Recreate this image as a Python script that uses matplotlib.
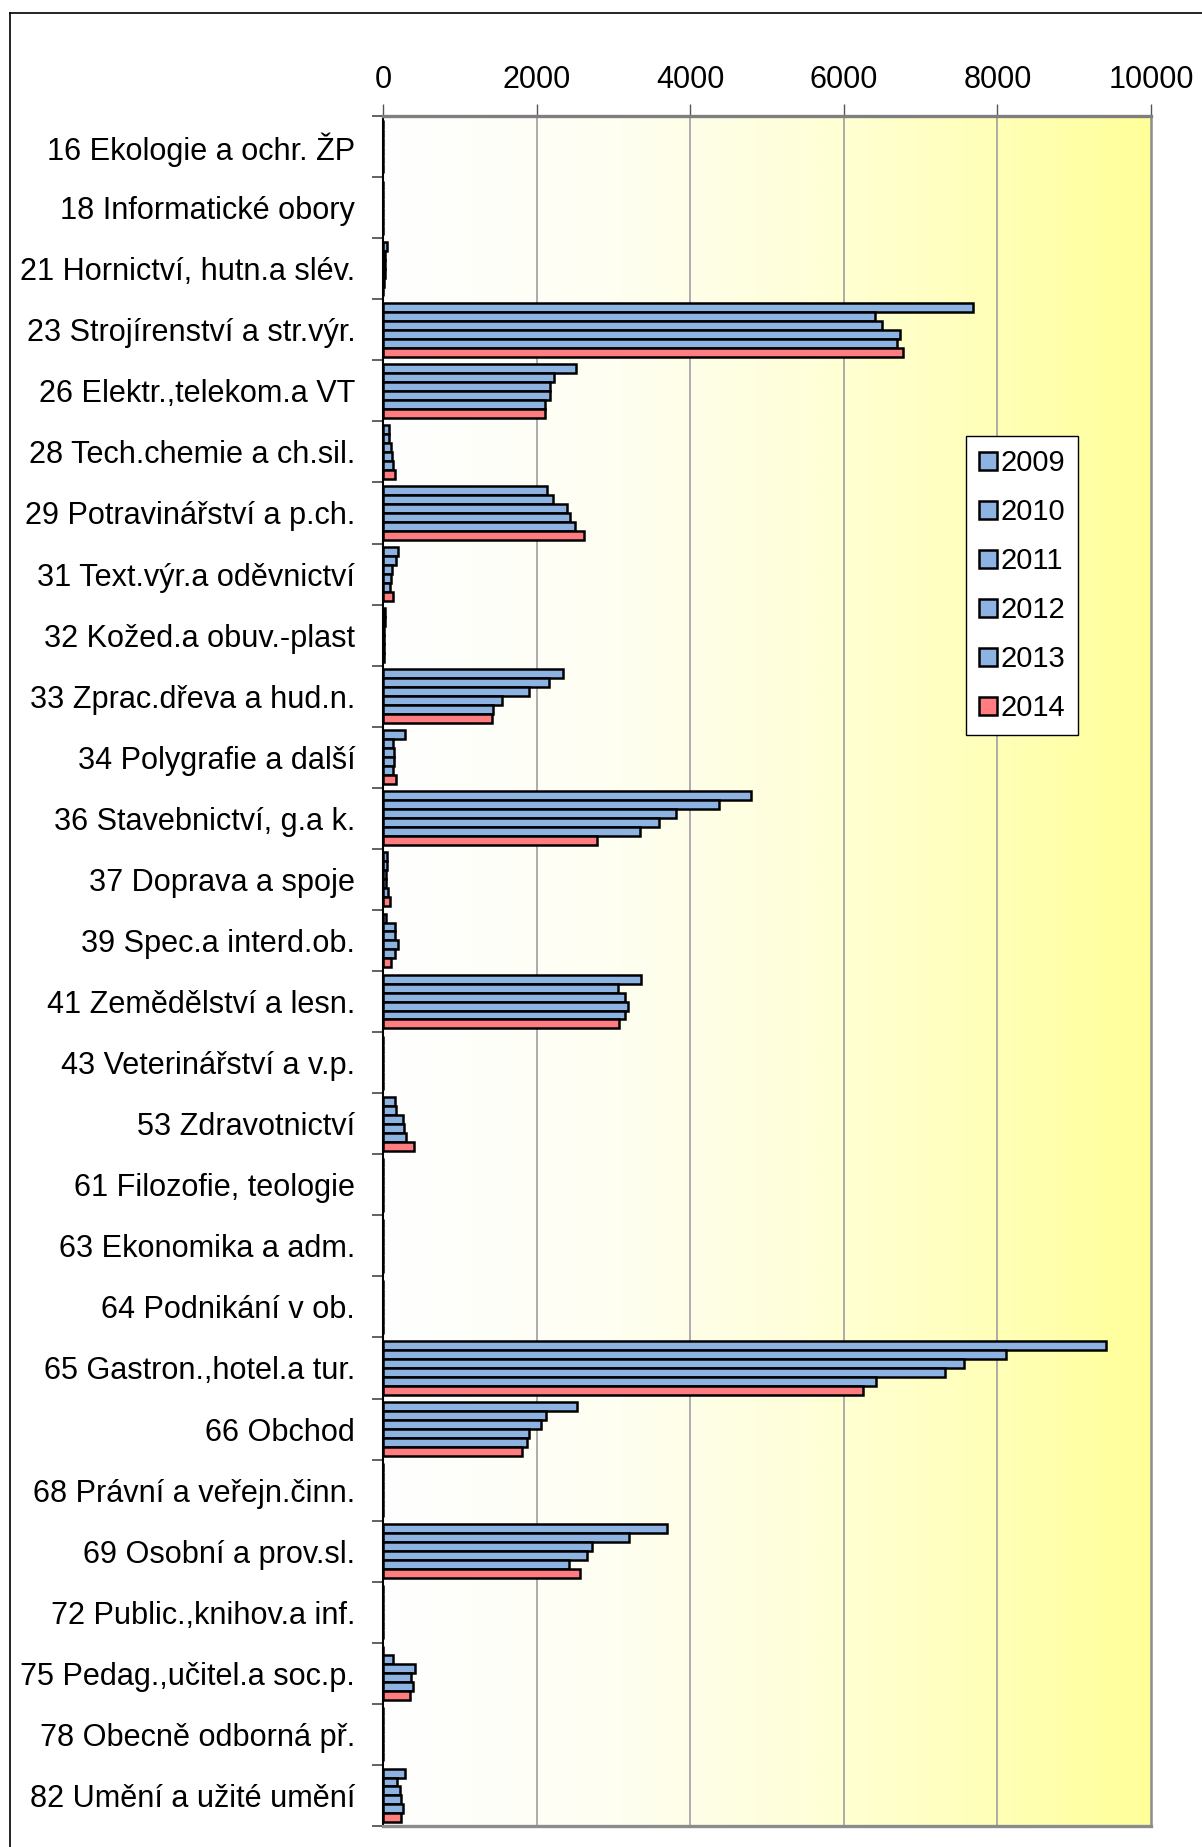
import matplotlib
matplotlib.use("Agg")
import matplotlib.pyplot as plt
import numpy as np
from matplotlib.colors import LinearSegmentedColormap
from matplotlib.patches import Rectangle
from matplotlib.lines import Line2D

plt.rcParams['font.family'] = ['Liberation Sans', 'DejaVu Sans']

categories = [
    "16 Ekologie a ochr. ŽP",
    "18 Informatické obory",
    "21 Hornictví, hutn.a slév.",
    "23 Strojírenství a str.výr.",
    "26 Elektr.,telekom.a VT",
    "28 Tech.chemie a ch.sil.",
    "29 Potravinářství a p.ch.",
    "31 Text.výr.a oděvnictví",
    "32 Kožed.a obuv.-plast",
    "33 Zprac.dřeva a hud.n.",
    "34 Polygrafie a další",
    "36 Stavebnictví, g.a k.",
    "37 Doprava a spoje",
    "39 Spec.a interd.ob.",
    "41 Zemědělství a lesn.",
    "43 Veterinářství a v.p.",
    "53 Zdravotnictví",
    "61 Filozofie, teologie",
    "63 Ekonomika a adm.",
    "64 Podnikání v ob.",
    "65 Gastron.,hotel.a tur.",
    "66 Obchod",
    "68 Právní a veřejn.činn.",
    "69 Osobní a prov.sl.",
    "72 Public.,knihov.a inf.",
    "75 Pedag.,učitel.a soc.p.",
    "78 Obecně odborná př.",
    "82 Umění a užité umění",
]

years = ["2009", "2010", "2011", "2012", "2013", "2014"]

v2009 = [0, 0, 50, 7680, 2510, 80, 2140, 190, 25, 2350, 290, 4795, 55, 35, 3365, 0,
         155, 0, 0, 0, 9410, 2530, 0, 3700, 0, 0, 0, 285]
v2010 = [0, 0, 30, 6400, 2230, 80, 2220, 170, 20, 2155, 135, 4380, 55, 150, 3055, 0,
         165, 0, 0, 0, 8110, 2120, 0, 3200, 0, 130, 0, 185]
v2011 = [0, 0, 25, 6500, 2170, 105, 2400, 115, 15, 1905, 140, 3815, 35, 160, 3155, 0,
         255, 0, 0, 0, 7560, 2060, 0, 2720, 0, 415, 0, 220]
v2012 = [0, 0, 20, 6735, 2180, 115, 2435, 110, 10, 1555, 140, 3590, 35, 190, 3190, 0,
         275, 0, 0, 0, 7320, 1905, 0, 2660, 0, 370, 0, 240]
v2013 = [0, 0, 15, 6690, 2110, 130, 2495, 95, 10, 1435, 130, 3345, 65, 155, 3155, 0,
         295, 0, 0, 0, 6420, 1870, 0, 2420, 0, 385, 0, 255]
v2014 = [0, 0, 0, 6765, 2115, 150, 2620, 125, 15, 1415, 170, 2780, 85, 105, 3070, 0,
         405, 0, 0, 0, 6255, 1805, 0, 2565, 0, 350, 0, 240]

series = [v2009, v2010, v2011, v2012, v2013, v2014]
colors = ["#8DB3E2"] * 5 + ["#FF7C80"]
xticks = [0, 2000, 4000, 6000, 8000, 10000]

W, H = 1202, 1847
fig = plt.figure(figsize=(W / 100, H / 100), dpi=100)
L, R, T, B = 383, 1151, 116, 1826
ax = fig.add_axes([L / W, 1 - B / H, (R - L) / W, (B - T) / H])

n = len(categories)
ax.set_xlim(0, 10000)
ax.set_ylim(n - 0.5, -0.5)

# gradient background
cmap = LinearSegmentedColormap.from_list(
    "bg", [(0.0, "#FFFFFF"), (0.3, "#FEFEF2"), (0.55, "#FFFFDA"),
           (0.8, "#FFFFB8"), (1.0, "#FFFF99")])
grad = np.linspace(0, 1, 512).reshape(1, -1)
ax.imshow(grad, cmap=cmap, aspect="auto", extent=[0, 10000, n - 0.5, -0.5],
          zorder=0, interpolation="bilinear")

for xv in xticks[1:-1]:
    ax.axvline(xv, color="#A6A6A6", lw=1.3, zorder=1)

h = 0.147
y = np.arange(n)
for i, (vals, c) in enumerate(zip(series, colors)):
    ax.barh(y + (i - 2.5) * h, vals, height=h, color=c, edgecolor="black",
            linewidth=1.8, zorder=3)

# axes styling
ax.xaxis.tick_top()
ax.set_xticks(xticks)
ax.set_xticklabels([str(v) for v in xticks])
ax.tick_params(axis="x", which="major", direction="out", length=9, width=1.0,
               color="#555555", pad=6, labelsize=22)
ax.set_yticks(y)
ax.set_yticklabels(categories)
ax.tick_params(axis="y", which="major", length=0, pad=20, labelsize=22.1)
ax.set_yticks(np.arange(n + 1) - 0.5, minor=True)
ax.tick_params(axis="y", which="minor", direction="out", length=8, width=1.3,
               color="#555555")

ax.spines["top"].set_color("#7F7F7F")
ax.spines["top"].set_linewidth(2.4)
ax.spines["bottom"].set_color("#8C8C8C")
ax.spines["bottom"].set_linewidth(2.4)
ax.spines["right"].set_color("#8C8C8C")
ax.spines["right"].set_linewidth(1.8)
ax.spines["left"].set_color("black")
ax.spines["left"].set_linewidth(1.5)
for s in ax.spines.values():
    s.set_zorder(5)

handles = [Rectangle((0, 0), 1, 1, facecolor=c, edgecolor="black", linewidth=1.8)
           for c in colors]
leg = ax.legend(handles, years, loc="upper left",
                bbox_to_anchor=((966 - L) / (R - L), (B - 436) / (B - T)),
                fontsize=21, frameon=True, fancybox=False, framealpha=1,
                edgecolor="black", handlelength=0.6, handleheight=0.6,
                handletextpad=0.12, labelspacing=0.72, borderpad=0.45,
                borderaxespad=0)
leg.get_frame().set_linewidth(1.0)
leg.set_zorder(10)

# outer frame
fig.add_artist(Line2D([9.5 / W, 1.0], [1 - 12.5 / H, 1 - 12.5 / H],
                      transform=fig.transFigure, color="black", lw=1.2))
fig.add_artist(Line2D([9.5 / W, 9.5 / W], [0, 1 - 12.5 / H],
                      transform=fig.transFigure, color="black", lw=1.2))

fig.savefig("out.png", dpi=100)
